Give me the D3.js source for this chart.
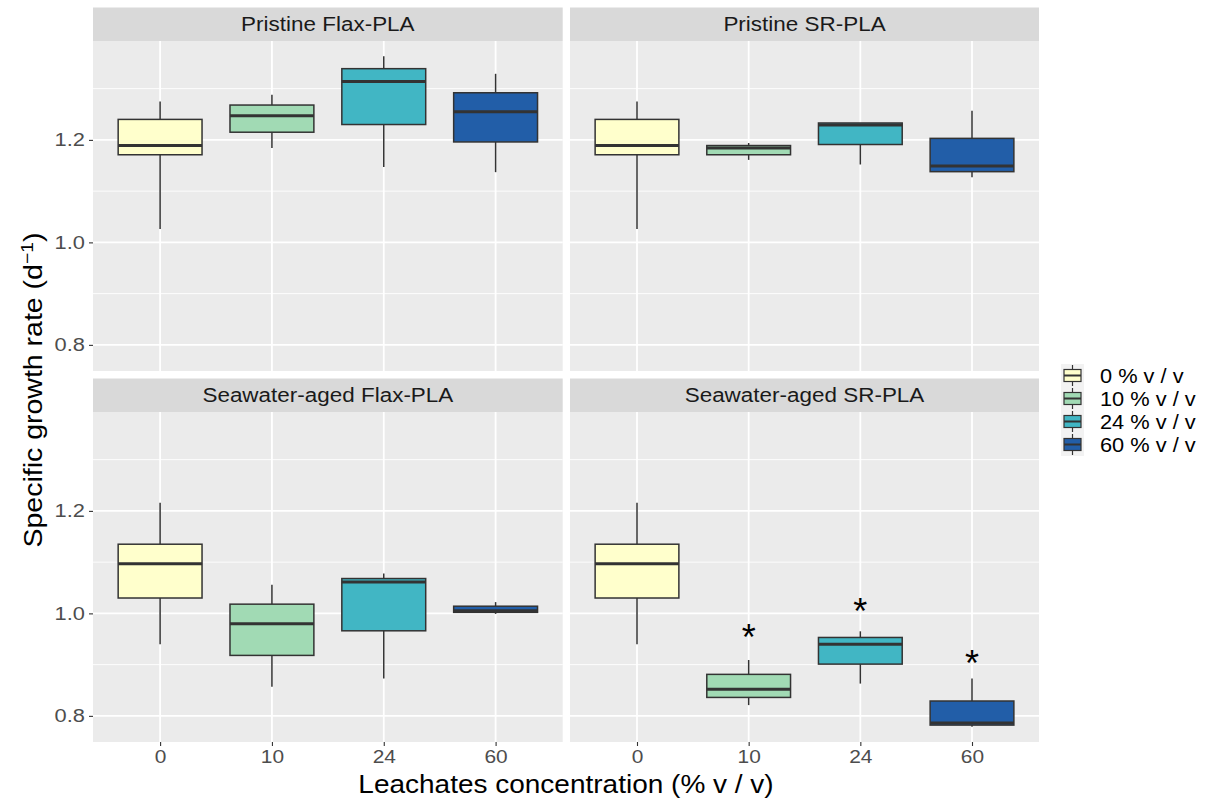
<!DOCTYPE html>
<html>
<head>
<meta charset="utf-8">
<script src="https://cdn.jsdelivr.net/npm/d3@7"></script>
<style>
  html, body { margin: 0; padding: 0; background: #ffffff; }
  svg { display: block; font-family: "Liberation Sans", Arial, sans-serif; }
</style>
</head>
<body>
<svg id="chart" width="1207" height="803"></svg>
<script>
// Leachate concentrations (x categories) and legend labels
const concentrations = ["0", "10", "24", "60"];
const legendLabels = ["0 % v / v", "10 % v / v", "24 % v / v", "60 % v / v"];
const fillColors = ["#FFFFCC", "#A1DAB4", "#41B6C4", "#225EA8"];

// Facet titles, in reading order
const panelTitles = ["Pristine Flax-PLA", "Pristine SR-PLA", "Seawater-aged Flax-PLA", "Seawater-aged SR-PLA"];

// Box summaries per concentration: [lower whisker, Q1, median, Q3, upper whisker]
const pristineFlax = [
  [1.026, 1.171, 1.189, 1.240, 1.275],
  [1.184, 1.215, 1.247, 1.268, 1.288],
  [1.147, 1.230, 1.314, 1.339, 1.363],
  [1.137, 1.196, 1.255, 1.292, 1.329]
];
const pristineSR = [
  [1.026, 1.171, 1.189, 1.240, 1.275],
  [1.161, 1.171, 1.184, 1.189, 1.194],
  [1.152, 1.191, 1.229, 1.233, 1.233],
  [1.127, 1.138, 1.149, 1.203, 1.257]
];
const agedFlax = [
  [0.940, 1.030, 1.097, 1.135, 1.216],
  [0.857, 0.918, 0.980, 1.018, 1.056],
  [0.873, 0.966, 1.061, 1.068, 1.078],
  [0.999, 1.002, 1.005, 1.014, 1.022]
];
const agedSR = [
  [0.940, 1.030, 1.097, 1.135, 1.216],
  [0.821, 0.836, 0.852, 0.881, 0.909],
  [0.863, 0.901, 0.940, 0.953, 0.965],
  [0.779, 0.782, 0.786, 0.829, 0.873]
];

// Significance marks (asterisk height per concentration, null = none)
const agedSRStars = [null, 0.9645, 1.0152, 0.9139];

// Axis ticks
const yMajorTicks = [0.8, 1.0, 1.2];
const yMinorTicks = [0.9, 1.1, 1.3];
const yDomain = [0.749, 1.393];

const panelData = [pristineFlax, pristineSR, agedFlax, agedSR];
const panelStars = [null, null, null, agedSRStars];

// ---- layout ----
const svg = d3.select("#chart");
const colX = [[93, 562.7], [570, 1039]];
const rowY = [[41, 371], [412, 742]];
const stripH = 33.5;

const TEXT_GRAY = "#4D4D4D";
const WIDEN = 1.1; // horizontal widening of glyphs

panelData.forEach((boxes, i) => {
  const col = i % 2, row = Math.floor(i / 2);
  const [x0, x1] = colX[col];
  const [y0, y1] = rowY[row];

  const x = d3.scalePoint().domain(concentrations).range([x0, x1]).padding(0.6);
  const y = d3.scaleLinear().domain(yDomain).range([y1, y0]);
  const boxW = x.step() * 0.75;

  const g = svg.append("g");

  // panel background
  g.append("rect").attr("x", x0).attr("y", y0)
    .attr("width", x1 - x0).attr("height", y1 - y0).attr("fill", "#EBEBEB");

  // strip
  g.append("rect").attr("x", x0).attr("y", y0 - stripH)
    .attr("width", x1 - x0).attr("height", stripH).attr("fill", "#D9D9D9");
  g.append("text")
    .attr("transform", `translate(${(x0 + x1) / 2},${y0 - stripH / 2}) scale(1.07,1)`)
    .attr("text-anchor", "middle").attr("dominant-baseline", "central")
    .attr("font-size", 21).attr("fill", "#1A1A1A").text(panelTitles[i]);

  // grid
  g.selectAll(".minor").data(yMinorTicks).join("line")
    .attr("x1", x0).attr("x2", x1).attr("y1", d => y(d)).attr("y2", d => y(d))
    .attr("stroke", "#FFFFFF").attr("stroke-width", 0.9);
  g.selectAll(".major").data(yMajorTicks).join("line")
    .attr("x1", x0).attr("x2", x1).attr("y1", d => y(d)).attr("y2", d => y(d))
    .attr("stroke", "#FFFFFF").attr("stroke-width", 1.8);
  g.selectAll(".vmajor").data(concentrations).join("line")
    .attr("x1", d => x(d)).attr("x2", d => x(d)).attr("y1", y0).attr("y2", y1)
    .attr("stroke", "#FFFFFF").attr("stroke-width", 1.8);

  // boxes
  const bg = g.selectAll(".box").data(boxes).join("g");
  bg.append("line")
    .attr("x1", (d, j) => x(concentrations[j])).attr("x2", (d, j) => x(concentrations[j]))
    .attr("y1", d => y(d[0])).attr("y2", d => y(d[1]))
    .attr("stroke", "#333333").attr("stroke-width", 1.5);
  bg.append("line")
    .attr("x1", (d, j) => x(concentrations[j])).attr("x2", (d, j) => x(concentrations[j]))
    .attr("y1", d => y(d[3])).attr("y2", d => y(d[4]))
    .attr("stroke", "#333333").attr("stroke-width", 1.5);
  bg.append("rect")
    .attr("x", (d, j) => x(concentrations[j]) - boxW / 2).attr("width", boxW)
    .attr("y", d => y(d[3])).attr("height", d => y(d[1]) - y(d[3]))
    .attr("fill", (d, j) => fillColors[j])
    .attr("stroke", "#333333").attr("stroke-width", 1.5);
  bg.append("line")
    .attr("x1", (d, j) => x(concentrations[j]) - boxW / 2).attr("x2", (d, j) => x(concentrations[j]) + boxW / 2)
    .attr("y1", d => y(d[2])).attr("y2", d => y(d[2]))
    .attr("stroke", "#333333").attr("stroke-width", 3);

  // significance asterisks
  const stars = panelStars[i];
  if (stars) {
    g.selectAll(".star").data(concentrations.filter((c, j) => stars[j] !== null)).join("text")
      .attr("x", d => x(d))
      .attr("y", d => y(stars[concentrations.indexOf(d)]) + 18)
      .attr("text-anchor", "middle").attr("font-size", 36).attr("fill", "#000000")
      .text("*");
  }

  // y axis on the left column
  if (col === 0) {
    const ax = g.append("g").attr("transform", `translate(${x0},0)`)
      .call(d3.axisLeft(y).tickValues(yMajorTicks).tickSize(4).tickPadding(4).tickFormat(d3.format(".1f")));
    ax.select(".domain").remove();
    ax.selectAll(".tick line").attr("stroke", "#333333").attr("stroke-width", 1.1);
    ax.selectAll(".tick text").attr("fill", TEXT_GRAY).attr("font-size", 19)
      .attr("x", 0).attr("transform", `translate(-8,0) scale(${WIDEN + 0.05},1)`)
      .attr("font-family", "Liberation Sans, Arial, sans-serif");
  }
  // x axis on the bottom row
  if (row === 1) {
    const ax = g.append("g").attr("transform", `translate(0,${y1})`)
      .call(d3.axisBottom(x).tickSize(4).tickPadding(4));
    ax.select(".domain").remove();
    ax.selectAll(".tick line").attr("stroke", "#333333").attr("stroke-width", 1.1);
    ax.selectAll(".tick text").attr("fill", TEXT_GRAY).attr("font-size", 19)
      .attr("transform", `scale(${WIDEN},1)`)
      .attr("font-family", "Liberation Sans, Arial, sans-serif");
  }
});

// axis titles
svg.append("text")
  .attr("transform", `translate(${(colX[0][0] + colX[1][1]) / 2},793) scale(1.12,1)`)
  .attr("text-anchor", "middle").attr("font-size", 25).attr("fill", "#000000")
  .text("Leachates concentration (% v / v)");

const yt = svg.append("text")
  .attr("transform", `translate(42,390) rotate(-90) scale(1.14,1)`)
  .attr("text-anchor", "middle").attr("font-size", 25).attr("fill", "#000000");
yt.append("tspan").text("Specific growth rate (d");
yt.append("tspan").attr("dy", -9).attr("font-size", 17).text("\u22121");
yt.append("tspan").attr("dy", 9).text(")");

// legend
const legend = svg.append("g");
const keySize = 23;
const legX = 1061, legY = 364;
legendLabels.forEach((lab, j) => {
  const ky = legY + j * keySize;
  const k = legend.append("g");
  k.append("rect").attr("x", legX).attr("y", ky).attr("width", keySize).attr("height", keySize).attr("fill", "#F2F2F2");
  const cx = legX + keySize / 2;
  k.append("line").attr("x1", cx).attr("x2", cx).attr("y1", ky + 1).attr("y2", ky + keySize - 1)
    .attr("stroke", "#333333").attr("stroke-width", 1.2);
  k.append("rect").attr("x", legX + 3).attr("y", ky + 5.5).attr("width", keySize - 6).attr("height", keySize - 11)
    .attr("fill", fillColors[j]).attr("stroke", "#333333").attr("stroke-width", 1.2);
  k.append("line").attr("x1", legX + 3).attr("x2", legX + keySize - 3).attr("y1", ky + keySize / 2).attr("y2", ky + keySize / 2)
    .attr("stroke", "#333333").attr("stroke-width", 2);
  k.append("text")
    .attr("transform", `translate(${legX + 39},${ky + keySize / 2}) scale(1.09,1)`)
    .attr("dominant-baseline", "central")
    .attr("font-size", 20).attr("fill", "#000000").text(lab);
});
</script>
</body>
</html>
